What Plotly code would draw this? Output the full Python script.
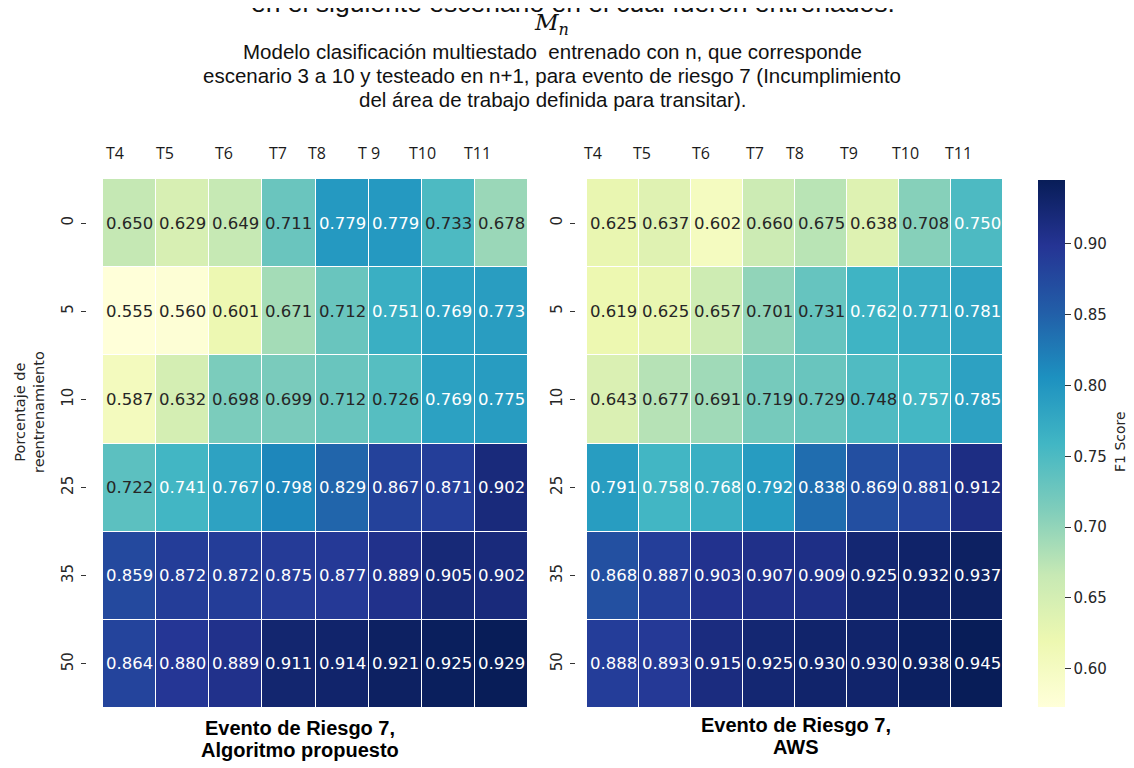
import plotly.graph_objects as go
import numpy as np

# ---------------- data ----------------
cols_left = ["T4", "T5", "T6", "T7", "T8", "T 9", "T10", "T11"]
cols_right = ["T4", "T5", "T6", "T7", "T8", "T9", "T10", "T11"]
rows = ["0", "5", "10", "25", "35", "50"]

f1_propuesto = [
    [0.650, 0.629, 0.649, 0.711, 0.779, 0.779, 0.733, 0.678],
    [0.555, 0.560, 0.601, 0.671, 0.712, 0.751, 0.769, 0.773],
    [0.587, 0.632, 0.698, 0.699, 0.712, 0.726, 0.769, 0.775],
    [0.722, 0.741, 0.767, 0.798, 0.829, 0.867, 0.871, 0.902],
    [0.859, 0.872, 0.872, 0.875, 0.877, 0.889, 0.905, 0.902],
    [0.864, 0.880, 0.889, 0.911, 0.914, 0.921, 0.925, 0.929],
]
f1_aws = [
    [0.625, 0.637, 0.602, 0.660, 0.675, 0.638, 0.708, 0.750],
    [0.619, 0.625, 0.657, 0.701, 0.731, 0.762, 0.771, 0.781],
    [0.643, 0.677, 0.691, 0.719, 0.729, 0.748, 0.757, 0.785],
    [0.791, 0.758, 0.768, 0.792, 0.838, 0.869, 0.881, 0.912],
    [0.868, 0.887, 0.903, 0.907, 0.909, 0.925, 0.932, 0.937],
    [0.888, 0.893, 0.915, 0.925, 0.930, 0.930, 0.938, 0.945],
]
cbar_ticks = [0.60, 0.65, 0.70, 0.75, 0.80, 0.85, 0.90]

title_line0 = "en el siguiente escenario en el cual fueron entrenados."
subtitle_lines = [
    "Modelo clasificación multiestado  entrenado con n, que corresponde",
    "escenario 3 a 10 y testeado en n+1, para evento de riesgo 7 (Incumplimiento",
    "del área de trabajo definida para transitar).",
]
label_left = ["Evento de Riesgo 7,", "Algoritmo propuesto"]
label_right = ["Evento de Riesgo 7,", "AWS"]
ytitle = "Porcentaje de<br>reentrenamiento"
cbar_title = "F1 Score"

# ---------------- style / layout ----------------
W, H = 1134, 768
PAGE_OFF = 8  # default body margin of the html page


def px(x):  # page pixel x -> paper fraction
    return (x - PAGE_OFF) / W


def py(y):  # page pixel y -> paper fraction
    return 1 - (y - PAGE_OFF) / H


YLGNBU = ["#ffffd9", "#edf8b1", "#c7e9b4", "#7fcdbb", "#41b6c4",
          "#1d91c0", "#225ea8", "#253494", "#081d58"]
cscale = [[i / 8, c] for i, c in enumerate(YLGNBU)]
FONT = "DejaVu Sans"
TXT_DARK = "#262626"

left_dom_x = [px(103), px(528)]
right_dom_x = [px(587), px(1003)]
dom_y = [py(708), py(179)]

# header label offsets (in column units) of the pasted labels
off_left = [-0.27, -0.33, -0.22, -0.20, -0.47, -0.49, -0.49, -0.45]
off_right = [-0.38, -0.44, -0.31, -0.27, -0.50, -0.46, -0.38, -0.35]

zl = np.array(f1_propuesto)
zr = np.array(f1_aws)
zrange_left = (0.555, 0.929)
zrange_right = (0.573, 0.945)
white_thr_left = 0.737
white_thr_right = 0.749

fig = go.Figure()
fig.add_trace(go.Heatmap(
    z=zl, x=list(range(len(cols_left))), y=list(range(len(rows))),
    colorscale=cscale, zmin=zrange_left[0], zmax=zrange_left[1],
    xgap=1, ygap=1, showscale=False, hoverinfo="z",
    xaxis="x", yaxis="y"))
fig.add_trace(go.Heatmap(
    z=zr, x=list(range(len(cols_right))), y=list(range(len(rows))),
    colorscale=cscale, zmin=zrange_right[0], zmax=zrange_right[1],
    xgap=1, ygap=1, hoverinfo="z", xaxis="x2", yaxis="y2",
    colorbar=dict(
        x=px(1038), xanchor="left", y=py(443.5), yanchor="middle",
        xpad=0, ypad=0,
        len=527, lenmode="pixels", thickness=27, thicknessmode="pixels",
        outlinewidth=0, ticks="outside", ticklen=6, tickcolor="#333",
        tickvals=cbar_ticks, tickformat=".2f",
        tickfont=dict(family=FONT, size=15, color=TXT_DARK))))

ann = []
for z, thr, xr, yr in [(zl, white_thr_left, "x", "y"), (zr, white_thr_right, "x2", "y2")]:
    for i in range(z.shape[0]):
        for j in range(z.shape[1]):
            v = z[i, j]
            ann.append(dict(x=j, y=i, xref=xr, yref=yr, text=f"{v:.3f}",
                            showarrow=False, xanchor="center", yanchor="middle",
                            font=dict(family=FONT, size=16.5,
                                      color="white" if v > thr else TXT_DARK)))

for labels, offs, xr in [(cols_left, off_left, "x"), (cols_right, off_right, "x2")]:
    for j, (lab, o) in enumerate(zip(labels, offs)):
        ann.append(dict(x=j + o, y=py(153), xref=xr, yref="paper", text=lab,
                        showarrow=False, xanchor="center", yanchor="middle",
                        font=dict(family="Open Sans", size=16, color="#1a1a1a")))

# titles
ann.append(dict(x=px(573), y=py(3), xref="paper", yref="paper", text=title_line0,
                showarrow=False, xanchor="center", yanchor="middle",
                font=dict(family="Liberation Sans", size=26.5, color="#111")))
ann.append(dict(x=px(551), y=py(24), xref="paper", yref="paper",
                text="<i>M</i><sub><i>n</i></sub>", showarrow=False,
                xanchor="center", yanchor="middle",
                font=dict(family="DejaVu Serif", size=23, color="#111")))
for k, line in enumerate(subtitle_lines):
    ann.append(dict(x=px(552), y=py(52 + 23.5 * k), xref="paper", yref="paper",
                    text=line, showarrow=False, xanchor="center", yanchor="middle",
                    font=dict(family="Liberation Sans", size=20.5, color="#111")))

for k, line in enumerate(label_left):
    ann.append(dict(x=px(300), y=py(728 + 22 * k), xref="paper", yref="paper",
                    text=f"<b>{line}</b>", showarrow=False,
                    xanchor="center", yanchor="middle",
                    font=dict(family="Liberation Sans", size=20, color="#000")))
for k, line in enumerate(label_right):
    ann.append(dict(x=px(796), y=py(725 + 22 * k), xref="paper", yref="paper",
                    text=f"<b>{line}</b>", showarrow=False,
                    xanchor="center", yanchor="middle",
                    font=dict(family="Liberation Sans", size=20, color="#000")))

ann.append(dict(x=px(29), y=py(412), xref="paper", yref="paper", text=ytitle,
                showarrow=False, textangle=-90, xanchor="center", yanchor="middle",
                font=dict(family=FONT, size=14.5, color=TXT_DARK)))
ann.append(dict(x=px(1120), y=py(442), xref="paper", yref="paper", text=cbar_title,
                showarrow=False, textangle=-90, xanchor="center", yanchor="middle",
                font=dict(family=FONT, size=14, color=TXT_DARK)))

xax = dict(range=[-0.5, 7.5], showgrid=False, zeroline=False, showticklabels=False,
           ticks="", showline=False, fixedrange=True)
yax = dict(range=[5.5, -0.5], tickvals=list(range(len(rows))), ticktext=rows,
           tickangle=-90, ticks="outside", ticklen=5, tickwidth=1.2, tickcolor="#333",
           ticklabelstandoff=2,
           tickfont=dict(family=FONT, size=15, color=TXT_DARK),
           showgrid=False, zeroline=False, showline=False, fixedrange=True)

fig.update_layout(
    width=W, height=H, margin=dict(l=0, r=0, t=0, b=0),
    paper_bgcolor="white", plot_bgcolor="white",
    xaxis=dict(domain=left_dom_x, anchor="y", **xax),
    yaxis=dict(domain=dom_y, anchor="free", position=px(86), **yax),
    xaxis2=dict(domain=right_dom_x, anchor="y2", **xax),
    yaxis2=dict(domain=dom_y, anchor="free", position=px(575), **yax),
    annotations=ann, showlegend=False,
)

fig.write_html("out.html")
